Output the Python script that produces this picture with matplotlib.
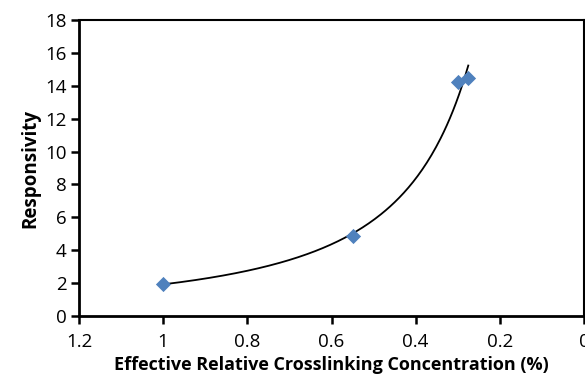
import numpy as np
import matplotlib
matplotlib.use("Agg")
import matplotlib.pyplot as plt

plt.rcParams['font.family'] = ['Open Sans', 'DejaVu Sans']

conc = [1.0, 0.55, 0.30, 0.275]
resp = [1.95, 4.85, 14.2, 14.5]
xticks = [1.2, 1.0, 0.8, 0.6, 0.4, 0.2, 0.0]
xticklabels = ["1.2", "1", "0.8", "0.6", "0.4", "0.2", "0"]
yticks = list(range(0, 19, 2))

fig = plt.figure(figsize=(5.85, 3.84), dpi=100)
ax = fig.add_axes([79/585, 1-316/384, (584-79)/585, (316-20)/384])

# power-law trendline fitted to data
b, loga = np.polyfit(np.log(conc), np.log(resp), 1)
xf = np.linspace(min(conc), max(conc), 200)
ax.plot(xf, np.exp(loga) * xf**b, color='black', lw=1.3, zorder=2)
ax.scatter(conc, resp, marker='D', s=60, color='#4F81BD', zorder=3, linewidths=0)

ax.set_xlim(1.2, 0.0)
ax.set_ylim(0, 18)
ax.set_xticks(xticks)
ax.set_xticklabels(xticklabels)
ax.set_yticks(yticks)
ax.tick_params(direction='out', length=6, width=1.8, labelsize=13.5, pad=3)
ax.tick_params(axis='x', pad=6)
for s in ['left', 'bottom']:
    ax.spines[s].set_linewidth(2)
for s in ['top', 'right']:
    ax.spines[s].set_linewidth(1.5)
ax.set_xlabel('Effective Relative Crosslinking Concentration (%)', fontsize=13, fontweight='bold', labelpad=4)
ax.set_ylabel('Responsivity', fontsize=13.5, fontweight='bold', labelpad=3)
fig.savefig('out.png', dpi=100)
